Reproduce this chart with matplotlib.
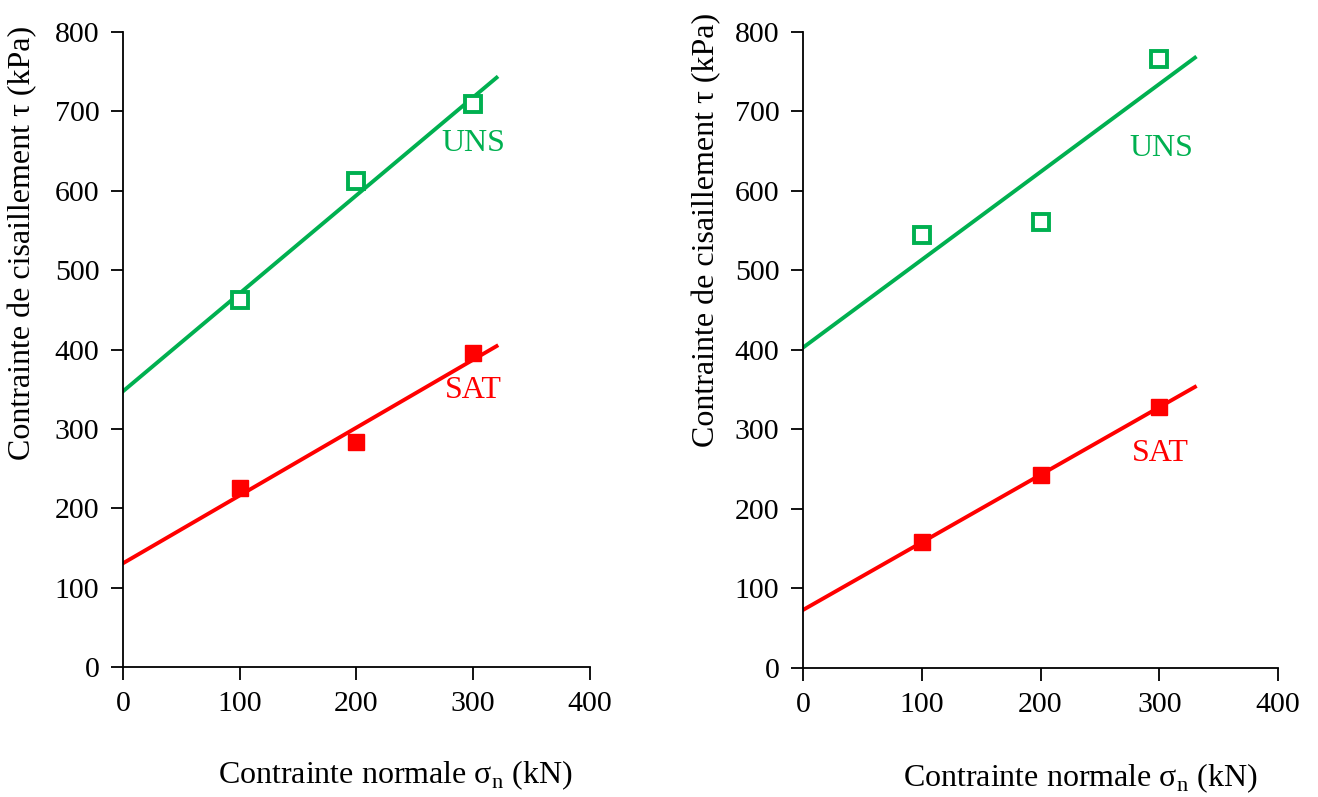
# Critère de Mohr-Coulomb : essais de cisaillement direct, état saturé (SAT) et non saturé (UNS)

import numpy as np
import matplotlib.pyplot as plt

plt.rcParams['font.family'] = ['Liberation Serif', 'DejaVu Serif']
plt.rcParams['mathtext.fontset'] = 'custom'
plt.rcParams['mathtext.rm'] = 'Liberation Serif'

# contrainte normale (kN)
sigma_n = [100, 200, 300]

# panneau gauche
tau_uns_a = [462, 612, 709]
tau_sat_a = [225, 284, 396]
# panneau droit
tau_uns_b = [545, 561, 766]
tau_sat_b = [158, 243, 328]

x_fin = [320, 330]   # fin des droites de régression

vert = '#00B050'
rouge = '#FF0000'

fig = plt.figure(figsize=(13.18, 7.97), dpi=100)
ax1 = fig.add_axes([0.0933, 0.1631, 0.3543, 0.7967])
ax2 = fig.add_axes([0.6093, 0.1619, 0.3604, 0.7980])

panneaux = [(ax1, tau_uns_a, tau_sat_a, x_fin[0], (300, 660), (300, 349)),
            (ax2, tau_uns_b, tau_sat_b, x_fin[1], (302, 654), (301, 270))]

for ax, uns, sat, xf, pos_uns, pos_sat in panneaux:
    xl = np.array([0, xf])
    # droites de tendance (moindres carrés)
    p = np.polyfit(sigma_n, uns, 1)
    ax.plot(xl, np.polyval(p, xl), color=vert, lw=2.8)
    p = np.polyfit(sigma_n, sat, 1)
    ax.plot(xl, np.polyval(p, xl), color=rouge, lw=2.8)

    ax.plot(sigma_n, uns, 's', ms=11, mfc='white', mec=vert, mew=2.8)
    ax.plot(sigma_n, sat, 's', ms=12, mfc=rouge, mec=rouge, mew=1)

    ax.text(pos_uns[0], pos_uns[1], 'UNS', color=vert, fontsize=23,
            ha='center', va='center')
    ax.text(pos_sat[0], pos_sat[1], 'SAT', color=rouge, fontsize=23,
            ha='center', va='center')

    ax.set_xlim(0, 400)
    ax.set_ylim(0, 800)
    ax.set_xticks([0, 100, 200, 300, 400])
    ax.set_yticks(range(0, 801, 100))
    ax.spines['top'].set_visible(False)
    ax.spines['right'].set_visible(False)
    for s in ['left', 'bottom']:
        ax.spines[s].set_linewidth(1.3)
    ax.tick_params(direction='out', length=9, width=1.3, labelsize=21.5, pad=8)

fig.text(0.300, 0.027, 'Contrainte normale σ$_{\\mathrm{n}}$ (kN)', fontsize=23,
         ha='center', va='center')
fig.text(0.820, 0.024, 'Contrainte normale σ$_{\\mathrm{n}}$ (kN)', fontsize=23,
         ha='center', va='center')
fig.text(0.017, 0.695, 'Contrainte de cisaillement τ (kPa)', fontsize=23,
         rotation=90, ha='center', va='center')
fig.text(0.536, 0.711, 'Contrainte de cisaillement τ (kPa)', fontsize=23,
         rotation=90, ha='center', va='center')

fig.savefig('out.png', dpi=100)
